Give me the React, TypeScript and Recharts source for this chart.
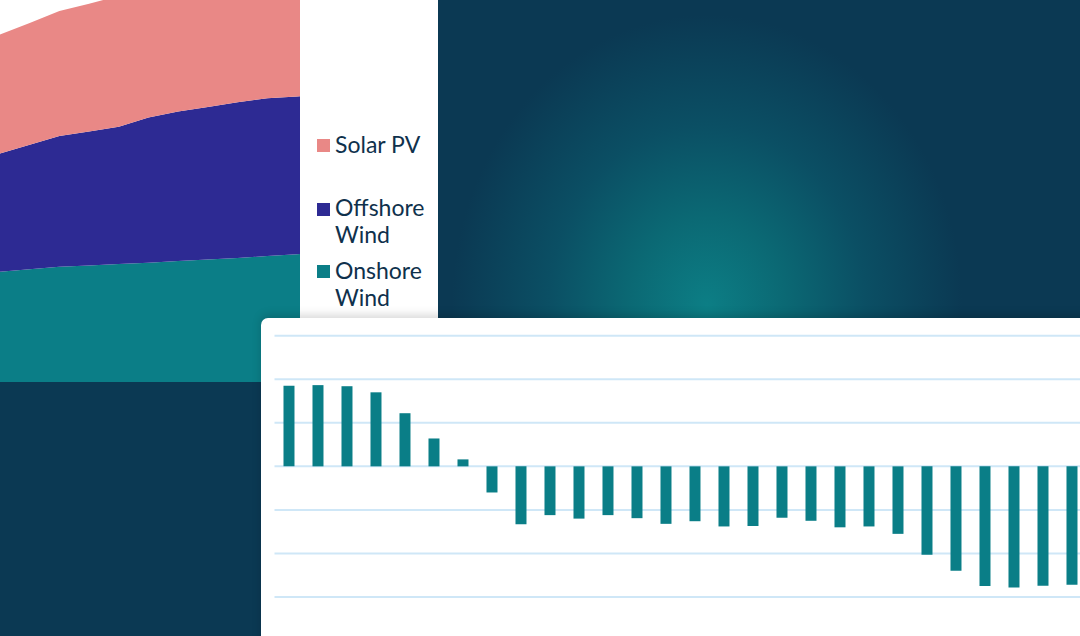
import React from 'react';
import { AreaChart, Area, BarChart, Bar, XAxis, YAxis, CartesianGrid } from 'recharts';

// ---- Area chart (capacity mix) ----
const areaYears = ['2019', '2020', '2021', '2022', '2023', '2024', '2025', '2026', '2027', '2028', '2029', '2030'];
const onshoreWind = [31.5, 32.2, 32.9, 33.3, 33.7, 34.1, 34.6, 35.0, 35.4, 36.0, 36.5, 36.9];
const offshoreWind = [33.8, 35.6, 37.4, 38.3, 39.2, 41.5, 42.7, 43.6, 44.5, 45.1, 45.1, 45.1];
const solarPV = [34.0, 34.8, 35.7, 36.5, 37.4, 36.7, 36.9, 37.4, 37.7, 37.9, 38.7, 39.5];

const seriesNames = ['Solar PV', 'Offshore Wind', 'Onshore Wind'];
const seriesColors = ['#e98886', '#2d2a93', '#0b7e87'];

// ---- Bar chart (balance) ----
const barYears = Array.from({ length: 28 }, (_, i) => String(2023 + i));
const balance = [1.85, 1.865, 1.84, 1.7, 1.22, 0.64, 0.16, -0.6, -1.33, -1.12, -1.2, -1.12, -1.19, -1.32,
  -1.26, -1.38, -1.37, -1.18, -1.25, -1.4, -1.38, -1.55, -2.03, -2.4, -2.75, -2.78, -2.74, -2.72];
const balanceTicks = [-3, -2, -1, 0, 1, 2, 3];

const areaData = areaYears.map((y, i) => ({
  year: y,
  onshore: onshoreWind[i],
  offshore: offshoreWind[i],
  solar: solarPV[i],
}));

const barData = barYears.map((y, i) => ({ year: y, value: balance[i] }));

const legendTops = [130.9, 194.3, 256.9];

export default function App() {
  return (
    <div
      style={{
        position: 'fixed',
        left: 0,
        top: 0,
        width: 1080,
        height: 636,
        overflow: 'hidden',
        background: '#0b3953',
        fontFamily: 'Lato, "Open Sans", sans-serif',
      }}
    >
      {/* white panel */}
      <div style={{ position: 'absolute', left: 0, top: 0, width: 438, height: 382, background: '#ffffff' }} />

      {/* area chart, cropped */}
      <div style={{ position: 'absolute', left: 0, top: 0, width: 300, height: 382, overflow: 'hidden' }}>
        <div style={{ position: 'absolute', left: 0, top: -73 }}>
          <AreaChart width={326.7} height={455} data={areaData} margin={{ top: 0, right: 0, bottom: 0, left: 0 }}>
            <XAxis dataKey="year" hide />
            <YAxis hide type="number" domain={[0, 130]} />
            <Area type="linear" dataKey="onshore" stackId="a" stroke="none" fill={seriesColors[2]} fillOpacity={1} isAnimationActive={false} dot={false} activeDot={false} />
            <Area type="linear" dataKey="offshore" stackId="a" stroke="none" fill={seriesColors[1]} fillOpacity={1} isAnimationActive={false} dot={false} activeDot={false} />
            <Area type="linear" dataKey="solar" stackId="a" stroke="none" fill={seriesColors[0]} fillOpacity={1} isAnimationActive={false} dot={false} activeDot={false} />
          </AreaChart>
        </div>
      </div>

      {/* legend */}
      {seriesNames.map((name, i) => (
        <div key={name}>
          <div
            style={{
              position: 'absolute',
              left: 317,
              top: legendTops[i] + 8.5,
              width: 13,
              height: 13,
              background: seriesColors[i],
            }}
          />
          <div
            style={{
              position: 'absolute',
              left: 335,
              top: legendTops[i],
              width: 102,
              fontSize: 23,
              lineHeight: '27px',
              color: '#0f314c',
            }}
          >
            {name !== 'Solar PV'
              ? name.split(' ').map((w, j) => <div key={j}>{w}</div>)
              : name}
          </div>
        </div>
      ))}

      {/* right gradient panel */}
      <div
        style={{
          position: 'absolute',
          left: 438,
          top: 0,
          width: 642,
          height: 318,
          background:
            'radial-gradient(ellipse 255px 290px at 269px 305px, #0c7e85 0%, #0b6974 30%, #0b4f64 62%, #0b3953 100%)',
        }}
      />

      {/* card */}
      <div
        style={{
          position: 'absolute',
          left: 261,
          top: 318,
          width: 840,
          height: 340,
          background: '#ffffff',
          borderRadius: 7,
          boxShadow: '0 -3px 10px rgba(0,0,0,0.16)',
        }}
      >
        <div style={{ position: 'absolute', left: 0, top: 0 }}>
          <BarChart
            width={825.5}
            height={300}
            data={barData}
            margin={{ top: 17.7, right: 0, bottom: 21, left: 13.5 }}
            barCategoryGap="31%"
          >
            <CartesianGrid vertical={false} stroke="#cfe7f7" strokeWidth={2} />
            <XAxis dataKey="year" hide />
            <YAxis hide type="number" domain={[-3, 3]} ticks={balanceTicks} />
            <Bar dataKey="value" fill="#0a7e87" isAnimationActive={false} />
          </BarChart>
        </div>
      </div>
    </div>
  );
}
